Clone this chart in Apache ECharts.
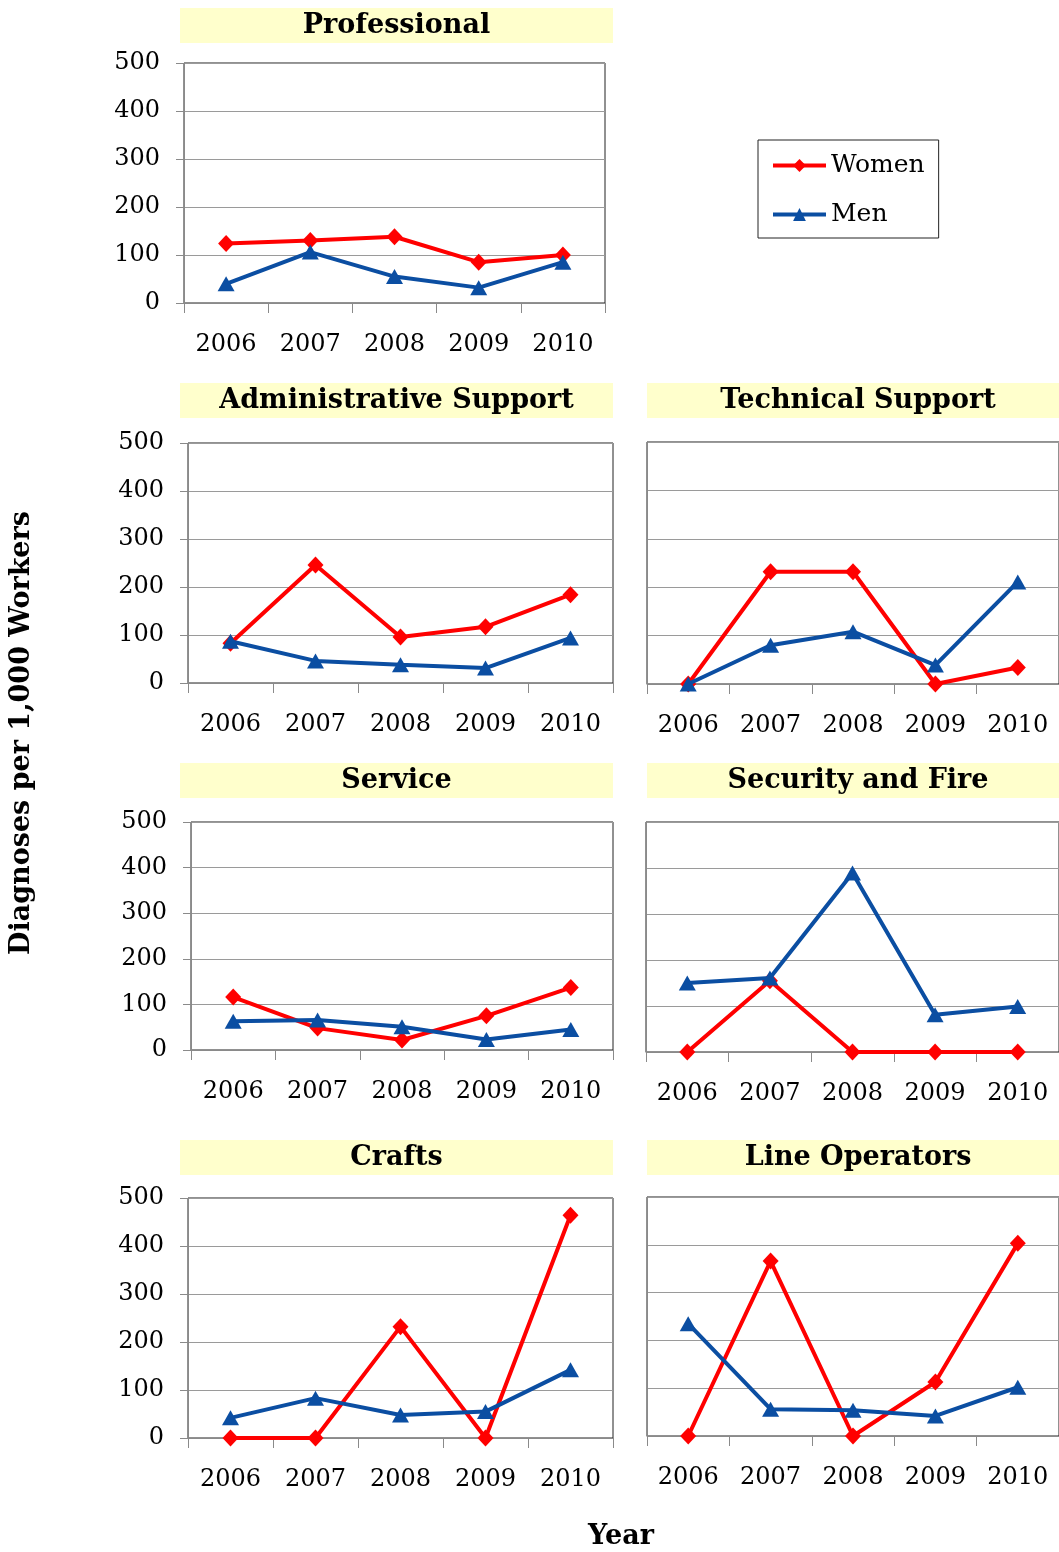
<!DOCTYPE html>
<html>
<head>
<meta charset="utf-8">
<script src="https://cdn.jsdelivr.net/npm/echarts@6/dist/echarts.min.js"></script>
<style>
html,body{margin:0;padding:0;background:#fff;}
#c{width:1059px;height:1552px;}
</style>
</head>
<body>
<div id="c"></div>
<script>
const years = ['2006','2007','2008','2009','2010'];
const panelTitles = ['Professional','Administrative Support','Technical Support','Service','Security and Fire','Crafts','Line Operators'];
const yTicks = [0,100,200,300,400,500];

const womenProfessional = [124,130,138,85,100];
const menProfessional   = [40,106,55,32,85];
const womenAdmin = [83,246,96,117,184];
const menAdmin   = [87,46,38,31,94];
const womenTechnical = [0,232,232,0,34];
const menTechnical   = [0,80,108,39,211];
const womenService = [116,48,22,75,137];
const menService   = [63,66,51,23,45];
const womenSecurity = [0,155,0,0,0];
const menSecurity   = [150,161,389,81,99];
const womenCrafts = [0,0,232,0,464];
const menCrafts   = [42,83,48,55,142];
const womenLineOps = [0,366,0,113,403];
const menLineOps   = [235,56,54,42,102];

const womenAll = [womenProfessional,womenAdmin,womenTechnical,womenService,womenSecurity,womenCrafts,womenLineOps];
const menAll = [menProfessional,menAdmin,menTechnical,menService,menSecurity,menCrafts,menLineOps];

// layout (pixels)
const grids = [
  {left:184, top:63,   width:421, height:240, yLabels:true},
  {left:188, top:443,  width:425, height:240, yLabels:true},
  {left:647, top:442,  width:417, height:242, yLabels:false},
  {left:191, top:822,  width:422, height:228, yLabels:true},
  {left:646, top:822,  width:417, height:230, yLabels:false},
  {left:188, top:1198, width:425, height:240, yLabels:true},
  {left:647, top:1197, width:417, height:239, yLabels:false}
];
const titleBoxes = [
  {x:180, y:8,    w:433, h:35},
  {x:180, y:383,  w:433, h:35},
  {x:647, y:383,  w:422, h:35},
  {x:180, y:763,  w:433, h:35},
  {x:647, y:763,  w:422, h:35},
  {x:180, y:1140, w:433, h:35},
  {x:647, y:1140, w:422, h:35}
];

const FONT = 'DejaVu Serif';
const RED = '#FF0000';
const BLUE = '#0B4EA2';

const option = {
  animation:false,
  backgroundColor:'#ffffff',
  grid: grids.map(g => ({left:g.left, top:g.top, width:g.width, height:g.height, show:true, borderColor:'#222', borderWidth:1, backgroundColor:'transparent', containLabel:false})),
  xAxis: grids.map((g,i) => ({
    type:'category', gridIndex:i, data:years, boundaryGap:true,
    axisLine:{show:true, lineStyle:{color:'#8a8a8a', width:1}},
    axisTick:{show:true, length:10, alignWithLabel:false, lineStyle:{color:'#8a8a8a'}},
    axisLabel:{show:true, margin:30, color:'#000', fontFamily:FONT, fontSize:24, interval:0},
    splitLine:{show:false}
  })),
  yAxis: grids.map((g,i) => ({
    type:'value', gridIndex:i, min:0, max:500, interval:100,
    axisLine:{show:true, lineStyle:{color:'#8a8a8a', width:1}},
    axisTick:{show:g.yLabels, length:8, lineStyle:{color:'#8a8a8a'}},
    axisLabel:{show:g.yLabels, margin:24, color:'#000', fontFamily:FONT, fontSize:24},
    splitLine:{show:true, lineStyle:{color:'#9a9a9a', width:1}}
  })),
  legend: {
    left:758, top:140, orient:'vertical',
    data:['Women','Men'],
    borderColor:'#222', borderWidth:1,
    padding:[13,14,11,13],
    itemWidth:53, itemHeight:16, itemGap:24,
    lineStyle:{width:4},
    textStyle:{fontFamily:FONT, fontSize:25, color:'#000'}
  },
  series: [],
  graphic: []
};

for (let i=0;i<7;i++){
  option.series.push({
    name:'Women', type:'line', xAxisIndex:i, yAxisIndex:i, data:womenAll[i],
    symbol:'diamond', symbolSize:[16,17],
    lineStyle:{color:RED, width:4}, itemStyle:{color:RED}, z:2
  });
  option.series.push({
    name:'Men', type:'line', xAxisIndex:i, yAxisIndex:i, data:menAll[i],
    symbol:'triangle', symbolSize:[17,15],
    lineStyle:{color:BLUE, width:4}, itemStyle:{color:BLUE}, z:3
  });
}

titleBoxes.forEach((b,i) => {
  option.graphic.push({
    type:'rect', shape:{x:b.x, y:b.y, width:b.w, height:b.h},
    style:{fill:'#FFFFCC'}, z:0, silent:true
  });
  option.graphic.push({
    type:'text', x:b.x + b.w/2, y:b.y + b.h/2,
    style:{text:panelTitles[i], font:'bold 27px "DejaVu Serif"', fill:'#000', textAlign:'center', textVerticalAlign:'middle'},
    z:1, silent:true
  });
});
option.graphic.push({
  type:'text', x:22, y:733, rotation:Math.PI/2,
  style:{text:'Diagnoses per 1,000 Workers', font:'bold 27px "DejaVu Serif"', fill:'#000', textAlign:'center', textVerticalAlign:'middle'},
  silent:true
});
option.graphic.push({
  type:'text', x:621, y:1537,
  style:{text:'Year', font:'bold 27px "DejaVu Serif"', fill:'#000', textAlign:'center', textVerticalAlign:'middle'},
  silent:true
});

const chart = echarts.init(document.getElementById('c'), null, {renderer:'canvas'});
chart.setOption(option);
</script>
</body>
</html>
